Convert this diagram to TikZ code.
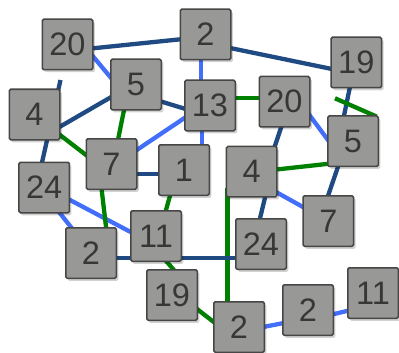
\documentclass[tikz,border=0pt]{standalone}
\usepackage{fontspec}
\setmainfont{Liberation Sans}
\usetikzlibrary{shadows}
\definecolor{dkblue}{RGB}{31,74,130}
\definecolor{brblue}{RGB}{66,110,250}
\definecolor{grn}{RGB}{0,128,0}
\definecolor{boxfill}{RGB}{152,152,150}
\definecolor{boxline}{RGB}{70,70,70}
\definecolor{boxtext}{RGB}{55,55,55}
\pgfdeclarelayer{background}
\pgfsetlayers{background,main}
\tikzset{
  numbox/.style={draw=boxline, fill=boxfill, line width=1.5pt, rounded corners=1.5pt,
    minimum width=50.5pt, minimum height=50.5pt, inner sep=0pt, text=boxtext,
    font=\fontsize{32.5}{32.5}\selectfont,
    drop shadow={shadow xshift=2pt, shadow yshift=-2.5pt, opacity=0.18, fill=black}},
  dk/.style={draw=dkblue, line width=4.3pt},
  bl/.style={draw=brblue, line width=4.3pt},
  gr/.style={draw=grn, line width=4.3pt}
}
\begin{document}
\begin{tikzpicture}[x=1pt,y=-1pt]
\useasboundingbox (0,0) rectangle (399,353);
\node[numbox] (n20a) at (67.5,44.5) {20};
\node[numbox] (n2a) at (205.5,34.5) {2};
\node[numbox] (n19a) at (356.3,62.5) {19};
\node[numbox] (n5a) at (136,84.5) {5};
\node[numbox] (n4a) at (34.5,114.5) {4};
\node[numbox] (n13) at (210,105.5) {13};
\node[numbox] (n20b) at (284.5,101.7) {20};
\node[numbox] (n5b) at (353,141.2) {5};
\node[numbox] (n7a) at (111.5,164) {7};
\node[numbox] (n1) at (184,170) {1};
\node[numbox] (n4b) at (251.7,171.7) {4};
\node[numbox] (n24a) at (44.2,187.5) {24};
\node[numbox] (n2b) at (91,253) {2};
\node[numbox] (n11a) at (156,236) {11};
\node[numbox] (n19b) at (172,295) {19};
\node[numbox] (n24b) at (261,244) {24};
\node[numbox] (n7b) at (328.3,221) {7};
\node[numbox] (n2c) at (239,327) {2};
\node[numbox] (n2d) at (308,310) {2};
\node[numbox] (n11b) at (373,293) {11};
\coordinate (s1) at (60.5,80);
\coordinate (s2) at (335,98.3);
\begin{pgfonlayer}{background}
\draw[dk] ([shift={(10.9,5.3)}]n20a.center) -- ([shift={(-10.6,3.3)}]n2a.center);
\draw[dk] ([shift={(11.5,10.8)}]n2a.center) -- ([shift={(-13.3,8.8)}]n19a.center);
\draw[bl] ([shift={(18.1,3.0)}]n20a.center) -- ([shift={(-18.3,1.4)}]n5a.center);
\draw[bl] ([shift={(-4.5,15.5)}]n2a.center) -- ([shift={(-9,-13.5)}]n13.center);
\draw[dk] ([shift={(14.2,13.7)}]n5a.center) -- ([shift={(-15.2,6.3)}]n13.center);
\draw[dk] ([shift={(-15.6,7.2)}]n5a.center) -- ([shift={(15.1,18.2)}]n4a.center);
\draw[gr] ([shift={(-9.6,13.7)}]n5a.center) -- ([shift={(4.4,-13.9)}]n7a.center);
\draw[gr] ([shift={(17.6,14.4)}]n4a.center) -- ([shift={(-16,-1.7)}]n7a.center);
\draw[dk] (s1) -- ([shift={(-5,-12.5)}]n24a.center);
\draw[bl] ([shift={(16.8,-8.3)}]n7a.center) -- ([shift={(-16,6.1)}]n13.center);
\draw[dk] ([shift={(13.5,10)}]n7a.center) -- ([shift={(-14,4)}]n1.center);
\draw[bl] ([shift={(-8.3,14.5)}]n13.center) -- ([shift={(17.7,-15)}]n1.center);
\draw[gr] ([shift={(14,-7.2)}]n13.center) -- ([shift={(-14.5,-3.4)}]n20b.center);
\draw[dk] ([shift={(0.3,14.6)}]n20b.center) -- ([shift={(19.5,-14.6)}]n4b.center);
\draw[bl] ([shift={(19.1,5.4)}]n20b.center) -- ([shift={(-19.2,6.8)}]n5b.center);
\draw[dk] ([shift={(-4.2,14)}]n19a.center) -- ([shift={(-11.4,-13.8)}]n5b.center);
\draw[gr] (s2) -- ([shift={(23.5,-24.7)}]n5b.center);
\draw[gr] ([shift={(14.7,-1.1)}]n4b.center) -- ([shift={(-18.3,21.9)}]n5b.center);
\draw[dk] ([shift={(-11.1,14.1)}]n5b.center) -- ([shift={(-3.9,-14.6)}]n7b.center);
\draw[bl] ([shift={(17.9,16.7)}]n4b.center) -- ([shift={(-15.5,-8.5)}]n7b.center);
\draw[dk] ([shift={(16.1,14.3)}]n4b.center) -- ([shift={(-3.8,-14)}]n24b.center);
\draw[gr] ([shift={(-24.2,16.3)}]n4b.center) -- ([shift={(-11.5,-12)}]n2c.center);
\draw[dk] ([shift={(14,5.3)}]n2b.center) -- ([shift={(-11,14.3)}]n24b.center);
\draw[bl] ([shift={(8.3,16.4)}]n24a.center) -- ([shift={(-12.8,-16.9)}]n2b.center);
\draw[bl] ([shift={(15.2,6.9)}]n24a.center) -- ([shift={(-15.4,1.3)}]n11a.center);
\draw[gr] ([shift={(-11.2,14.1)}]n7a.center) -- ([shift={(16.4,-14.4)}]n2b.center);
\draw[gr] ([shift={(-10.8,14.1)}]n1.center) -- ([shift={(6.8,-14.4)}]n11a.center);
\draw[gr] ([shift={(2.8,16.6)}]n11a.center) -- ([shift={(9.2,-16.6)}]n19b.center);
\draw[gr] ([shift={(16.8,7.6)}]n19b.center) -- ([shift={(-16.2,2.1)}]n2c.center);
\draw[bl] ([shift={(14,2)}]n2c.center) -- ([shift={(-14,11)}]n2d.center);
\draw[bl] ([shift={(14.6,6.8)}]n2d.center) -- ([shift={(-14.6,15.2)}]n11b.center);
\end{pgfonlayer}
\end{tikzpicture}
\end{document}
